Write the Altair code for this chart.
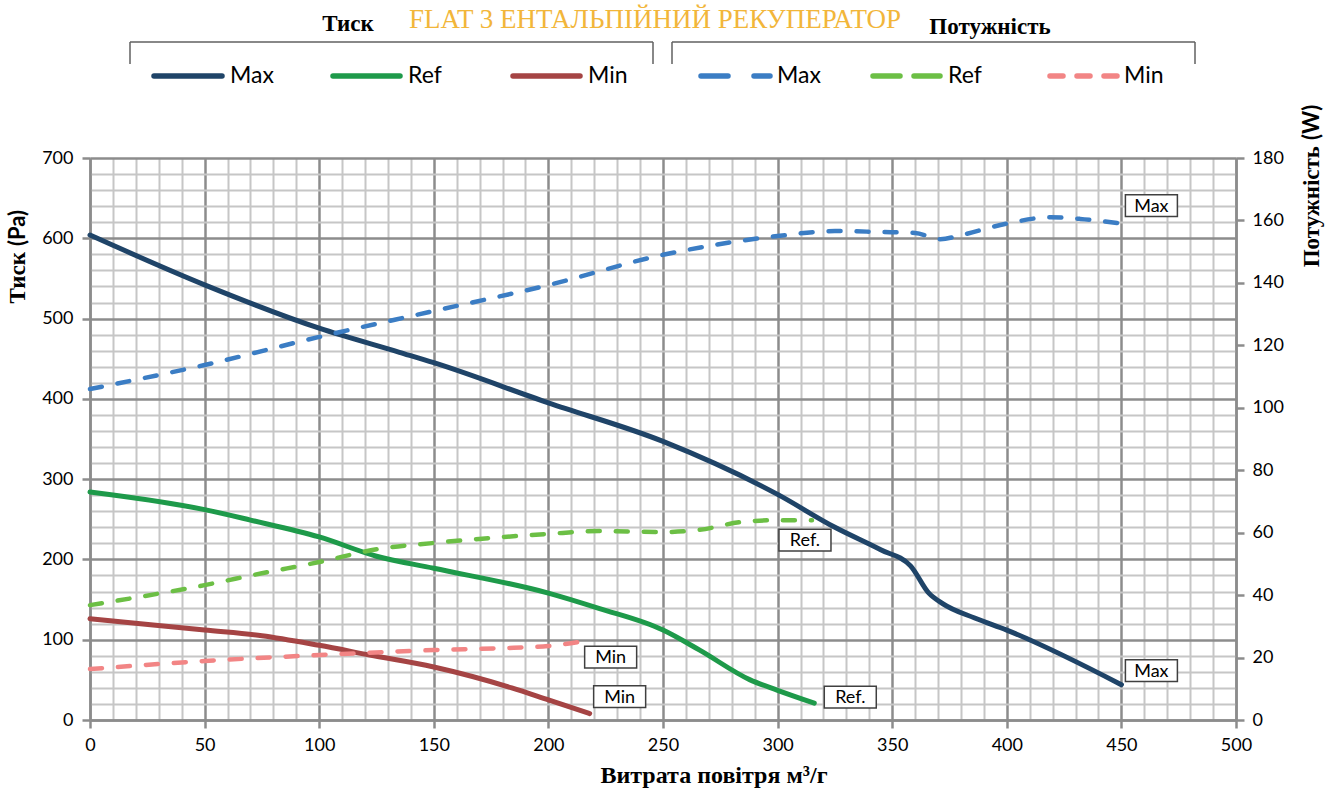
import altair as alt
import pandas as pd

# ---- pressure curves (Pa) vs air flow (m3/h) ----
flow_p_max = [0, 50, 100, 135, 150, 200, 250, 300, 325, 345, 358, 366, 372, 386, 400, 450]
pres_max = [604, 542, 488, 458, 445, 395, 347, 281, 240, 212, 192, 158, 145, 127, 112, 44]

flow_p_ref = [0, 50, 70, 100, 125, 150, 200, 222, 250, 266, 288, 300, 316]
pres_ref = [284, 262, 249, 228, 204, 189, 158, 139, 112, 87, 50, 37, 21]

flow_p_min = [0, 50, 75, 100, 122, 150, 184, 200, 218]
pres_min = [126, 112, 105, 93, 81, 66, 40, 25, 8]

# ---- power curves (W) vs air flow (m3/h) ----
flow_w_max = [0, 50, 100, 150, 200, 250, 300, 325, 345, 360, 371, 380, 400, 419, 432, 450]
power_max = [106, 113.7, 122.7, 131, 139.3, 149, 155, 156.6, 156.3, 156, 154, 155.3, 159, 161, 160.5, 159]

flow_w_ref = [0, 50, 75, 100, 126, 150, 200, 222, 250, 266, 284, 300, 315]
power_ref = [36.8, 43.2, 47, 50.6, 54.8, 56.7, 59.6, 60.5, 60.2, 60.9, 63.4, 64, 64]

flow_w_min = [0, 50, 100, 150, 179, 200, 218]
power_min = [16.3, 18.9, 20.8, 22.4, 23, 23.7, 25.6]

series_names = ["Max", "Ref", "Min"]
end_labels_p = ["Max", "Ref.", "Min"]
end_labels_w = ["Max", "Ref.", "Min"]

title_text = "FLAT 3 ЕНТАЛЬПІЙНИЙ РЕКУПЕРАТОР"
group_p = "Тиск"
group_w = "Потужність"
y_left_title = ["Тиск", "(Pa)"]
y_right_title = ["Потужність", "(W)"]
x_title = "Витрата повітря м³/г"

P_COLORS = ["#1f4468", "#1e9a4a", "#a54444"]
W_COLORS = ["#3b7dc4", "#6cbf45", "#f28585"]
GRID_MAJOR = "#8c8c8c"
GRID_MINOR = "#c6c6c6"
SERIF = "Liberation Serif"
SANS = "Lato"


def long_table(parts):
    frames = []
    for name, flows, vals in parts:
        frames.append(pd.DataFrame({"flow": flows, "val": vals, "series": name}))
    return pd.concat(frames, ignore_index=True)


pressure = long_table([
    ("Max", flow_p_max, pres_max),
    ("Ref", flow_p_ref, pres_ref),
    ("Min", flow_p_min, pres_min),
])
power = long_table([
    ("Max", flow_w_max, power_max),
    ("Ref", flow_w_ref, power_ref),
    ("Min", flow_w_min, power_min),
])

W, H = 1146, 562
OX, OY = 90, 158  # plot origin inside the canvas


def px(x):
    return x - OX


def py(y):
    return y - OY


x_enc = alt.X(
    "flow:Q",
    scale=alt.Scale(domain=[0, 500], nice=False, zero=False),
    axis=alt.Axis(
        values=list(range(0, 501, 10)),
        labelExpr="datum.value % 50 === 0 ? datum.label : ''",
        labelOverlap=False,
        labelBound=False,
        labelFlush=False,
        grid=True,
        gridColor=alt.condition("datum.value % 50 === 0", alt.value(GRID_MAJOR), alt.value(GRID_MINOR)),
        gridWidth=alt.condition("datum.value % 50 === 0", alt.value(2.5), alt.value(2)),
        tickColor=alt.condition("datum.value % 50 === 0", alt.value(GRID_MAJOR), alt.value("transparent")),
        tickSize=8,
        tickWidth=2.5,
        domainColor=GRID_MAJOR,
        domainWidth=2.5,
        labelPadding=8,
        labelFont=SANS,
        labelFontSize=18,
        labelColor="#000000",
        title=None,
    ),
)

y_left = alt.Y(
    "val:Q",
    scale=alt.Scale(domain=[0, 700], nice=False, zero=True),
    axis=alt.Axis(
        values=list(range(0, 701, 20)),
        labelExpr="datum.value % 100 === 0 ? datum.label : ''",
        labelOverlap=False,
        labelBound=False,
        labelFlush=False,
        grid=True,
        gridColor=alt.condition("datum.value % 100 === 0", alt.value(GRID_MAJOR), alt.value(GRID_MINOR)),
        gridWidth=alt.condition("datum.value % 100 === 0", alt.value(2.5), alt.value(2)),
        tickColor=alt.condition("datum.value % 100 === 0", alt.value(GRID_MAJOR), alt.value("transparent")),
        tickSize=8,
        tickWidth=2.5,
        domainColor=GRID_MAJOR,
        domainWidth=2.5,
        labelPadding=9,
        labelFont=SANS,
        labelFontSize=18,
        labelColor="#000000",
        title=None,
    ),
)

y_right = alt.Y(
    "val:Q",
    scale=alt.Scale(domain=[0, 180], nice=False, zero=True),
    axis=alt.Axis(
        orient="right",
        values=list(range(0, 181, 20)),
        labelOverlap=False,
        labelBound=False,
        labelFlush=False,
        grid=False,
        tickColor=GRID_MAJOR,
        tickSize=8,
        tickWidth=2.5,
        domainColor=GRID_MAJOR,
        domainWidth=2.5,
        labelPadding=8,
        labelFont=SANS,
        labelFontSize=18,
        labelColor="#000000",
        title=None,
    ),
)

color_p = alt.Color("series:N", scale=alt.Scale(domain=series_names, range=P_COLORS), legend=None)
color_w = alt.Color("series:N", scale=alt.Scale(domain=series_names, range=W_COLORS), legend=None)

# box around each end-of-curve label, drawn as a rectangular point symbol
BOX = "M -1 -0.42 L 1 -0.42 L 1 0.42 L -1 0.42 Z"


def end_boxes(df, labels, offsets, y_enc):
    layers = []
    for name, lab, (dx, dy) in zip(series_names, labels, offsets):
        last = df[df["series"] == name].iloc[-1]
        row = pd.DataFrame([{"flow": last["flow"], "val": last["val"], "label": lab}])
        base = alt.Chart(row)
        box = base.mark_point(
            shape=BOX, size=2704, filled=True, fill="#ffffff", stroke="#404040",
            strokeWidth=1.5, opacity=1, xOffset=dx, yOffset=dy,
        ).encode(x=x_enc, y=y_enc)
        txt = base.mark_text(
            font=SANS, fontSize=18, color="#000000", align="center", baseline="middle",
            dx=dx, dy=dy + 1,
        ).encode(x=x_enc, y=y_enc, text="label:N")
        layers += [box, txt]
    return layers


p_lines = alt.Chart(pressure).mark_line(
    strokeWidth=5, strokeCap="round", interpolate="monotone"
).encode(x=x_enc, y=y_left, color=color_p, detail="series:N", order="flow:Q")

w_lines = alt.Chart(power).mark_line(
    strokeWidth=4.5, strokeCap="round", strokeDash=[12, 16], interpolate="monotone"
).encode(x=x_enc, y=y_right, color=color_w, detail="series:N", order="flow:Q")

p_group = alt.layer(p_lines, *end_boxes(pressure, end_labels_p, [(30, -14), (36, -6), (30, -17)], y_left))
w_group = alt.layer(w_lines, *end_boxes(power, end_labels_w, [(30, -18), (-7, 20), (21, 17)], y_right))

one = pd.DataFrame({"k": [0]})


def text_at(x, y, s, **kw):
    return alt.Chart(one).mark_text(**kw).encode(
        x=alt.value(px(x)), y=alt.value(py(y)), text=alt.value(s)
    )


def hline(x1, x2, y, **kw):
    return alt.Chart(one).mark_rule(**kw).encode(
        x=alt.value(px(x1)), x2=alt.value(px(x2)), y=alt.value(py(y))
    )


def vline(x, y1, y2, **kw):
    return alt.Chart(one).mark_rule(**kw).encode(
        x=alt.value(px(x)), y=alt.value(py(y1)), y2=alt.value(py(y2))
    )


deco = []
# heading texts
deco.append(text_at(655, 20, title_text, font=SERIF, fontSize=27, color="#f2b63a",
                    align="center", baseline="middle"))
deco.append(text_at(348, 24, group_p, font=SERIF, fontSize=23, fontWeight="bold",
                    color="#000000", align="center", baseline="middle"))
deco.append(text_at(990, 27, group_w, font=SERIF, fontSize=23, fontWeight="bold",
                    color="#000000", align="center", baseline="middle"))

# legend group brackets
for xa, xb in [(130, 653), (672, 1195)]:
    deco.append(hline(xa, xb, 42, color="#606060", strokeWidth=1.5))
    deco.append(vline(xa, 42, 64, color="#606060", strokeWidth=1.5))
    deco.append(vline(xb, 42, 64, color="#606060", strokeWidth=1.5))

LEG_Y = 76
leg_p = [(154, 222, 230), (333, 400, 408), (513, 580, 588)]
for (xa, xb, xt), name, col in zip(leg_p, series_names, P_COLORS):
    deco.append(hline(xa, xb, LEG_Y, color=col, strokeWidth=5.5, strokeCap="round"))
    deco.append(text_at(xt, LEG_Y, name, font=SANS, fontSize=23, color="#000000",
                        align="left", baseline="middle"))

leg_w = [(701, 770, 777, [27, 26]), (873, 940, 948, [27, 14]), (1050, 1117, 1124, [13, 14])]
for (xa, xb, xt, dash), name, col in zip(leg_w, series_names, W_COLORS):
    deco.append(hline(xa, xb, LEG_Y, color=col, strokeWidth=5.5, strokeCap="round", strokeDash=dash))
    deco.append(text_at(xt, LEG_Y, name, font=SANS, fontSize=23, color="#000000",
                        align="left", baseline="middle"))

# axis titles
deco.append(text_at(18, 252, y_left_title[0], font=SERIF, fontSize=23, fontWeight="bold",
                    angle=270, align="right", baseline="middle", color="#000000"))
deco.append(text_at(18, 246, y_left_title[1], font=SANS, fontSize=22, fontWeight="bold",
                    angle=270, align="left", baseline="middle", color="#000000"))
deco.append(text_at(1312, 146, y_right_title[0], font=SERIF, fontSize=23, fontWeight="bold",
                    angle=270, align="right", baseline="middle", color="#000000"))
deco.append(text_at(1312, 140, y_right_title[1], font=SANS, fontSize=22, fontWeight="bold",
                    angle=270, align="left", baseline="middle", color="#000000"))
deco.append(text_at(714, 776, x_title, font=SERIF, fontSize=24, fontWeight="bold",
                    align="center", baseline="middle", color="#000000"))

chart = alt.layer(p_group, w_group, *deco).resolve_scale(
    y="independent", color="independent"
).properties(
    width=W,
    height=H,
    autosize=alt.AutoSizeParams(type="none"),
    padding={"left": OX, "top": OY, "right": 1336 - OX - W, "bottom": 791 - OY - H},
    background="#ffffff",
).configure_view(stroke=None)

chart.save("out.html", embed_options={"renderer": "svg", "actions": False})
